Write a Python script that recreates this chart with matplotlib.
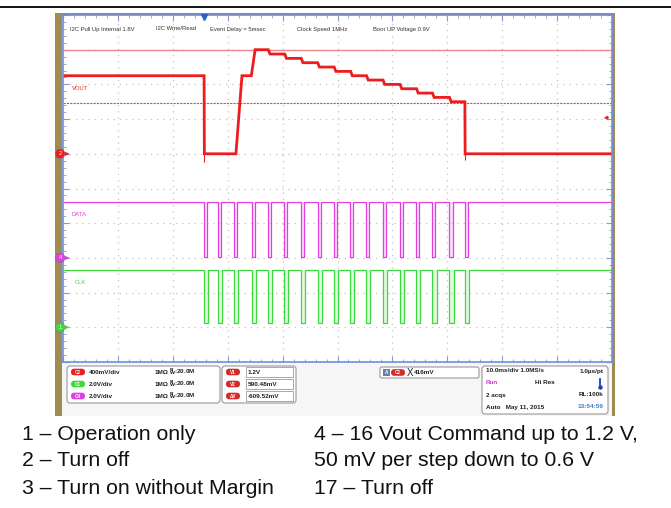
import numpy as np
import matplotlib.pyplot as plt
from matplotlib.patches import Rectangle, FancyBboxPatch, Circle

plt.rcParams['font.family'] = ['Liberation Sans', 'DejaVu Sans']

# --- captured waveforms (time in ms, 10 ms/div) ---
# VOUT (C2): segment start, level after the edge, edge duration
vout_start = [0.0, 25.7, 31.5, 34.3, 37.4, 40.4, 43.4, 46.4, 49.4, 52.4,
              55.3, 58.3, 61.4, 64.4, 67.3, 70.4, 73.2]
vout_level = [0.90, 0.00, 0.90, 1.20, 1.15, 1.10, 1.05, 1.00, 0.95, 0.90,
              0.85, 0.80, 0.75, 0.70, 0.65, 0.60, 0.00]
vout_ramp = [0.0, 0.05, 1.1, 0.7, 0.3, 0.3, 0.3, 0.3, 0.3, 0.3,
             0.3, 0.3, 0.3, 0.3, 0.3, 0.3, 0.05]
undershoot_t = [25.75, 73.25]
undershoot_v = [-0.09, -0.07]

# I2C bursts (one per PMBus command), DATA (C4) and CLK (C1)
burst_start = [25.7, 28.3, 31.2, 34.4, 37.3, 40.3, 43.4, 46.5, 49.4, 52.3,
               55.2, 58.3, 61.3, 64.3, 67.3, 70.4, 73.2]
data_hi, data_lo, data_w = 3.25, 0.05, 0.55
clk_hi, clk_lo, clk_w = 3.30, 0.25, 0.75

cursor_v = [1.2, 0.59048]
trig_level = 0.416

# channel: (offset in div, V/div, colour)
ch = {'C2': (6, 0.4, '#ee1c1c'), 'C4': (3, 2.0, '#e040e0'), 'C1': (1, 2.0, '#3fd83f')}

def todiv(v, c):
    off, sc, _ = ch[c]
    return off + np.asarray(v) / sc

fig = plt.figure(figsize=(6.71, 5.08), dpi=100)
bg = fig.add_axes([0, 0, 1, 1])
bg.set_xlim(0, 671)
bg.set_ylim(508, 0)
bg.axis('off')

bg.plot([0, 671], [7, 7], color='black', lw=1.3)
bg.add_patch(Rectangle((55, 13), 560, 403, fc='#a08c50', ec='none'))
bg.add_patch(Rectangle((62, 14.5), 550, 401.5, fc='#f6f6f6', ec='none'))

# --- scope screen ---
ax = fig.add_axes([63 / 671, 1 - 362 / 508, 549 / 671, 347 / 508])
ax.set_xlim(0, 100)
ax.set_ylim(0, 10)
ax.set_xticks(np.arange(0, 101, 10))
ax.set_yticks(np.arange(0, 11, 1))
ax.set_xticks(np.arange(0, 101, 2), minor=True)
ax.set_yticks(np.arange(0, 10.01, 0.2), minor=True)
ax.tick_params(which='both', direction='in', top=True, right=True,
               labelbottom=False, labelleft=False, color='#8a9ad0')
ax.tick_params(which='major', length=4, width=0.8)
ax.tick_params(which='minor', length=2.5, width=0.6)
ax.grid(True, which='major', color='#c4c4c4', linestyle=(0, (1, 4)), lw=0.9)
for s in ax.spines.values():
    s.set_color('#6f8fdf')
    s.set_linewidth(1.2)

# cursors
ax.axhline(todiv(cursor_v[0], 'C2'), color='#f08a8a', lw=1.0)
ax.axhline(todiv(cursor_v[1], 'C2'), color='#e04848', lw=0.8, linestyle=(0, (2, 1)))

# VOUT
t, v = [vout_start[0]], [vout_level[0]]
for i in range(1, len(vout_start)):
    t += [vout_start[i], vout_start[i] + vout_ramp[i]]
    v += [vout_level[i - 1], vout_level[i]]
t.append(100)
v.append(vout_level[-1])
ax.plot(t, todiv(v, 'C2'), color=ch['C2'][2], lw=2.0, solid_joinstyle='miter')
ax.vlines(undershoot_t, todiv(undershoot_v, 'C2'), todiv(0, 'C2'), color=ch['C2'][2], lw=0.8)

# DATA and CLK
for c, hi, lo, w in [('C4', data_hi, data_lo, data_w), ('C1', clk_hi, clk_lo, clk_w)]:
    col = ch[c][2]
    t, v = [0], [hi]
    for s in burst_start:
        t += [s, s, s + w, s + w]
        v += [hi, lo, lo, hi]
        ax.fill_between([s, s + w], todiv(lo, c), todiv(hi, c), color=col, alpha=0.15, lw=0)
    t.append(100)
    v.append(hi)
    ax.plot(t, todiv(v, c), color=col, lw=0.9)

# --- overlay: labels, markers, status bar ---
ov = fig.add_axes([0, 0, 1, 1], zorder=5)
ov.set_xlim(0, 671)
ov.set_ylim(508, 0)
ov.axis('off')
ov.patch.set_alpha(0)

notes = ['I2C Pull Up Internal 1.8V', 'I2C Write/Read', 'Event Delay = 5msec',
         'Clock Speed 1MHz', 'Boot UP Voltage 0.9V']
notes_x = [70, 156, 210, 297, 373]
for s, x in zip(notes, notes_x):
    ov.text(x, 29, s, fontsize=4.2, color='#333333', va='center')

ov.text(72, 88, 'VOUT', fontsize=4.2, color=ch['C2'][2], va='center')
ov.text(71, 214, 'DATA', fontsize=4.2, color=ch['C4'][2], va='center')
ov.text(75, 282, 'CLK', fontsize=4.2, color=ch['C1'][2], va='center')

# trigger position and level markers
ov.plot(63 + 549 * burst_start[0] / 100, 17, marker='v', color='#2f5fd0', ms=5)
ty = 362 - 34.7 * todiv(trig_level, 'C2')
ov.annotate('', xy=(601, ty), xytext=(611, ty),
            arrowprops=dict(arrowstyle='-|>', color=ch['C2'][2], lw=0.8, mutation_scale=5))

for c, num in [('C2', '2'), ('C4', '4'), ('C1', '1')]:
    y = 362 - 34.7 * ch[c][0]
    col = ch[c][2]
    ov.add_patch(Circle((60, y), 4.8, fc=col, ec='#777777', lw=0.4))
    ov.text(60, y, num, fontsize=4, color='white', ha='center', va='center')
    ov.annotate('', xy=(72, y), xytext=(64, y),
                arrowprops=dict(arrowstyle='-|>', color=col, lw=0.8, mutation_scale=5))

def box(x, y, w, h, r=3):
    ov.add_patch(FancyBboxPatch((x, y), w, h, boxstyle=f'round,pad=0,rounding_size={r}',
                                fc='white', ec='#9a9a9a', lw=0.8))

def pill(x, y, label, col):
    ov.add_patch(FancyBboxPatch((x, y - 3.3), 14, 6.6, boxstyle='round,pad=0,rounding_size=3.3',
                                fc=col, ec='none'))
    ov.text(x + 7, y, label, fontsize=3.3, color='white', ha='center', va='center', weight='bold')

st = dict(fontsize=4.6, weight='bold', color='#222222', va='center')

# vertical settings
scales = ['400mV/div', '2.0V/div', '2.0V/div']
box(67, 366, 153, 37)
for y, c, s in zip([372, 384, 396], ['C2', 'C1', 'C4'], scales):
    pill(71, y, c, ch[c][2])
    ov.text(89, y, s, **st)
    ov.text(155, y, '1MΩ', **st)
    ov.text(169, y, r'$^{\mathbf{B}}_{\mathbf{W}}$:20.0M', **st)

# cursor readouts
cursor_lbl = ['V1', 'V2', 'ΔV']
cursor_txt = ['1.2V', '590.48mV', '-609.52mV']
box(222, 366, 74, 37)
for y, l, s in zip([372, 384, 396], cursor_lbl, cursor_txt):
    pill(226, y, l, '#d42a2a')
    ov.add_patch(Rectangle((246, y - 5.2), 47, 10.4, fc='white', ec='#9a9a9a', lw=0.6))
    ov.text(248, y, s, **st)

# trigger readout
box(380, 367, 99, 11, r=2)
ov.add_patch(Rectangle((383, 369), 7, 7, fc='#6c7ea8', ec='none'))
ov.text(386.5, 372.5, 'A', fontsize=3.5, color='white', ha='center', va='center', weight='bold')
pill(391, 372.5, 'C2', '#d42a2a')
ov.text(407, 372.5, 'X', fontsize=7, color='#222222', va='center', ha='left')
ov.text(414, 372.5, '416mV', **st)

# acquisition readout
box(482, 366, 126, 48)
ov.text(486, 371, '10.0ms/div 1.0MS/s', **st)
ov.text(603, 371, '1.0µs/pt', ha='right', fontsize=4.6, weight='bold', color='#222222', va='center')
ov.text(486, 383, 'Run', fontsize=4.6, weight='bold', color='#d040d0', va='center')
ov.text(535, 383, 'Hi Res', **st)
ov.plot([600, 600], [379, 386], color='#1c3fc0', lw=1.3)
ov.plot(600, 386.5, marker='o', color='#1c3fc0', ms=2.2)
ov.text(486, 395, '2 acqs', **st)
ov.text(603, 395, 'RL:100k', ha='right', fontsize=4.6, weight='bold', color='#222222', va='center')
ov.text(486, 407, 'Auto   May 11, 2015', **st)
ov.text(604, 407, '13:54:59', ha='right', fontsize=4.6, weight='bold', color='#3a7fd8', va='center')

# --- caption ---
left_notes = ['1 – Operation only', '2 – Turn off', '3 – Turn on without Margin']
right_notes = ['4 – 16 Vout Command up to 1.2 V,', '50 mV per step down to 0.6 V', '17 – Turn off']
for y, a, b in zip([434, 461, 488], left_notes, right_notes):
    bg.text(22, y, a, fontsize=15.3, color='#111111', va='center')
    bg.text(314, y, b, fontsize=15.3, color='#111111', va='center')

fig.savefig('out.png', dpi=100)
